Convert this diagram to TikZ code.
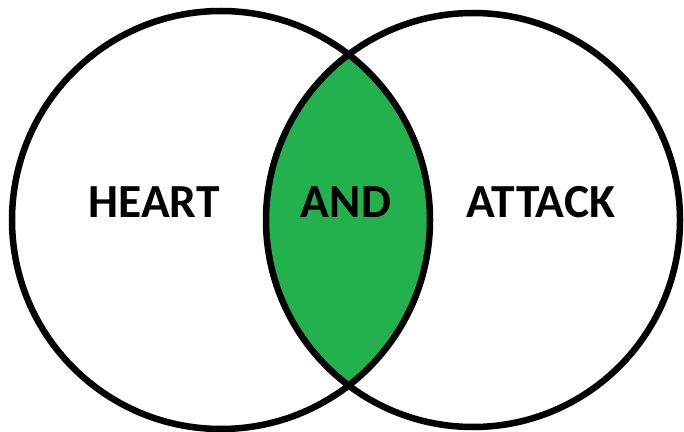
\documentclass[tikz,border=0pt]{standalone}
\usepackage{fontspec}
\setmainfont{Carlito}
\usepackage{xcolor}
\usepackage{tikz}
\usetikzlibrary{positioning}
\definecolor{paintgreen}{HTML}{22B14C}

\tikzset{
  ring/.style={draw=black, line width=6.5pt},
  word/.style={font=\fontsize{47.5}{52}\selectfont\bfseries, inner sep=0pt}
}

\begin{document}
\begin{tikzpicture}[x=1pt, y=1pt]
  \useasboundingbox (0,0) rectangle (684,431);
  \fill[white] (0,0) rectangle (684,431);
  % overlap of the two sets
  \begin{scope}
    \clip (221,211) circle (209);
    \fill[paintgreen] (473,211) circle (207);
  \end{scope}
  \draw[ring] (221,211) circle (209);
  \draw[ring] (473,211) circle (207);
  \node[word] (heart) at (154,228.5) {HEART};
  \node[word] (and) at (346,228.5) {AND};
  \node[word] (attack) at (541,228.5) {ATTACK};
\end{tikzpicture}
\end{document}
